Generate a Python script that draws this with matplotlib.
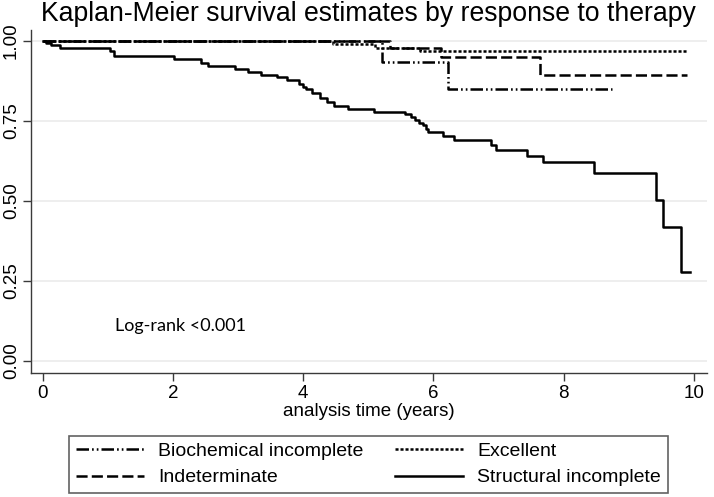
import matplotlib
matplotlib.use("Agg")
import matplotlib.pyplot as plt

# ---------------- data ----------------
groups = ["Biochemical incomplete", "Excellent", "Indeterminate", "Structural incomplete"]

bio_times = [5.21, 6.22]
bio_surv = [0.933, 0.848]
bio_end = 8.74

exc_times = [4.46, 5.10, 5.79]
exc_surv = [0.990, 0.977, 0.966]
exc_end = 9.89

ind_times = [5.33, 6.12, 7.64]
ind_surv = [0.977, 0.950, 0.891]
ind_end = 9.89

str_times = [0.05, 0.12, 0.26, 1.03, 1.10, 2.01, 2.43, 2.54, 2.95, 3.15, 3.35,
             3.59, 3.75, 3.93, 4.00, 4.05, 4.13, 4.26, 4.36, 4.47, 4.69, 5.08,
             5.57, 5.65, 5.72, 5.78, 5.84, 5.88, 5.92, 6.14, 6.32, 6.89, 6.96,
             7.43, 7.68, 8.46, 9.41, 9.52, 9.80]
str_surv = [0.993, 0.986, 0.978, 0.966, 0.952, 0.942, 0.930, 0.921, 0.912, 0.903, 0.893,
            0.886, 0.876, 0.865, 0.856, 0.848, 0.836, 0.822, 0.808, 0.795, 0.785, 0.776,
            0.770, 0.762, 0.752, 0.744, 0.735, 0.725, 0.714, 0.703, 0.690, 0.674, 0.658,
            0.641, 0.620, 0.588, 0.502, 0.417, 0.278]
str_end = 9.94

x_ticks = [0, 2, 4, 6, 8, 10]
y_ticks = [0.0, 0.25, 0.5, 0.75, 1.0]
y_ticklabels = ["0.00", "0.25", "0.50", "0.75", "1.00"]

title = "Kaplan-Meier survival estimates by response to therapy"
x_label = "analysis time (years)"
annotation = "Log-rank <0.001"

# ---------------- styling ----------------
plt.rcParams["font.family"] = ["Liberation Sans", "DejaVu Sans"]
plt.rcParams["lines.scale_dashes"] = False

W, H = 714, 497
fig = plt.figure(figsize=(W / 100, H / 100), dpi=100)
ax_l, ax_r, ax_b, ax_t = 31, 707, 373, 30
ax = fig.add_axes([ax_l / W, 1 - ax_b / H, (ax_r - ax_l) / W, (ax_b - ax_t) / H])

def km(times, surv, end):
    xs = [0.0] + list(times) + [end]
    ys = [1.0] + list(surv) + [surv[-1]]
    return xs, ys

lw = 1.8
styles = {
    "Biochemical incomplete": dict(dashes=(9, 2.2, 1.2, 2.2, 1.2, 2.2)),
    "Excellent": dict(dashes=(2.2, 1.4)),
    "Indeterminate": dict(dashes=(8, 3)),
    "Structural incomplete": dict(linestyle="-"),
}
data = {
    "Biochemical incomplete": km(bio_times, bio_surv, bio_end),
    "Excellent": km(exc_times, exc_surv, exc_end),
    "Indeterminate": km(ind_times, ind_surv, ind_end),
    "Structural incomplete": km(str_times, str_surv, str_end),
}
handles = {}
for g in groups:
    xs, ys = data[g]
    (ln,) = ax.step(xs, ys, where="post", color="black", lw=lw, **styles[g])
    handles[g] = ln

ax.set_xlim(-0.18, 10.2)
ax.set_ylim(-0.038, 1.033)
ax.set_xticks(x_ticks)
ax.set_yticks(y_ticks)
ax.set_yticklabels(y_ticklabels, rotation=90, va="center")
ax.grid(axis="y", color="#ebebeb", lw=1.2)
ax.set_axisbelow(True)
for s in ["top", "right"]:
    ax.spines[s].set_visible(False)
for s in ["left", "bottom"]:
    ax.spines[s].set_color("#3a3a3a")
    ax.spines[s].set_linewidth(1.0)
ax.tick_params(axis="both", direction="out", length=5.5, width=1.0, color="#3a3a3a",
               labelsize=13.5, pad=3.5)
ax.tick_params(axis="y", pad=2.5)
ax.set_xlabel(x_label, fontsize=13.5, labelpad=0)

ax.text(1.11, 0.108, annotation, fontsize=13, family=["Lato", "DejaVu Sans"],
        va="center", ha="left")

fig.text(41 / W, 1 - 14 / H, title, fontsize=19.2, va="center", ha="left")

order = ["Biochemical incomplete", "Indeterminate", "Excellent", "Structural incomplete"]
leg = fig.legend([handles[g] for g in order], order, ncol=2,
                 loc="center", bbox_to_anchor=(368.5 / W, 1 - 464.5 / H),
                 fontsize=14, handlelength=3.5, handletextpad=0.72, columnspacing=1.65,
                 labelspacing=0.45, borderpad=0.35, frameon=True, fancybox=False,
                 edgecolor="#3a3a3a")
leg.get_frame().set_linewidth(1.2)

fig.savefig("out.png", dpi=100)
